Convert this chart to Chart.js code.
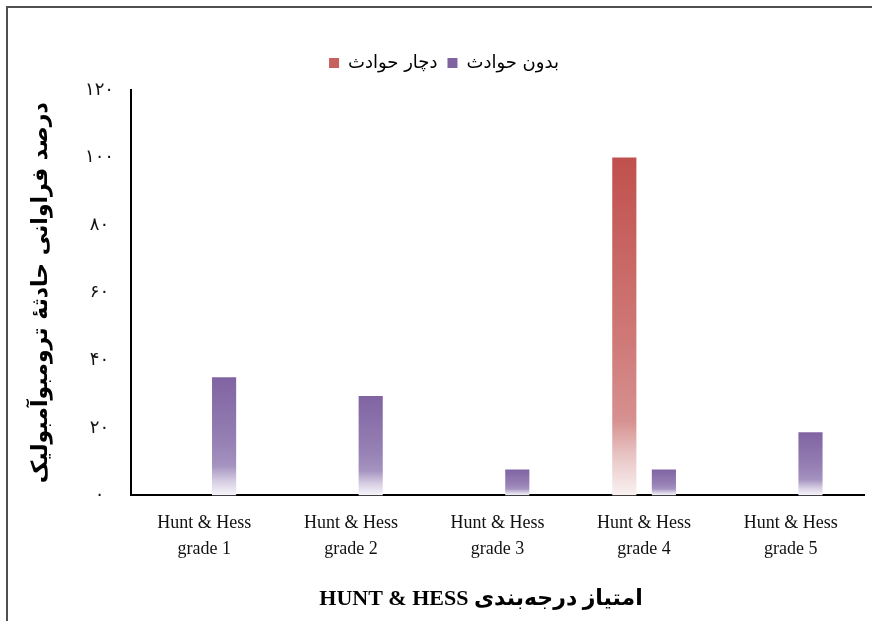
<!DOCTYPE html>
<html lang="fa">
<head>
    <meta charset="UTF-8">
    <title>Hunt & Hess</title>
    <script src="https://cdn.jsdelivr.net/npm/chart.js"></script>
    <style>
        body {
            margin: 0;
            background: #fff;
            overflow: hidden;
        }
        .frame {
            position: absolute;
            left: 6px;
            top: 6px;
            width: 920px;
            height: 700px;
            border: 2px solid #505050;
        }
        .wrap {
            position: absolute;
            left: 0;
            top: 0;
            width: 872px;
            height: 621px;
        }
    </style>
</head>
<body>
    <div class="frame"></div>
    <div class="wrap">
        <canvas id="hhChart"></canvas>
    </div>

    <script>
        // داده‌ها
        const categories = [
            ['Hunt & Hess', 'grade 1'],
            ['Hunt & Hess', 'grade 2'],
            ['Hunt & Hess', 'grade 3'],
            ['Hunt & Hess', 'grade 4'],
            ['Hunt & Hess', 'grade 5']
        ];
        const seriesNames = ['دچار حوادث', 'بدون حوادث'];
        const withAccident = [0, 0, 0, 100, 0];
        const withoutAccident = [35, 29.4, 7.7, 7.7, 18.7];
        const yTickLabels = ['۰', '۲۰', '۴۰', '۶۰', '۸۰', '۱۰۰', '۱۲۰'];

        const yTitle = 'درصد فراوانی حادثهٔ ترومبوآمبولیک';
        // چند فاصله در ابتدا تا عنوان کمی به چپ برود (مثل تصویر)
        const xTitle = '\u202B      امتیاز درجه‌بندی HUNT & HESS\u202C';

        const fontSerif = "'Liberation Serif', 'DejaVu Sans', serif";
        const fontFa = "'DejaVu Sans', sans-serif";

        // گرادیان ستون‌ها از بالا به پایین
        function barFill(stops, solid) {
            return function (ctx) {
                if (ctx.type !== 'data') return solid;
                const chart = ctx.chart;
                if (!chart.chartArea) return solid;
                const y = chart.scales.y;
                const top = y.getPixelForValue(ctx.raw || 0);
                const bottom = y.getPixelForValue(0);
                if (bottom - top < 1) return solid;
                const g = chart.ctx.createLinearGradient(0, top, 0, bottom);
                stops.forEach(s => g.addColorStop(s[0], s[1]));
                return g;
            };
        }

        const redStops = [
            [0, 'rgb(192, 80, 77)'],
            [0.55, 'rgb(207, 122, 120)'],
            [0.78, 'rgb(214, 145, 144)'],
            [0.88, 'rgb(232, 196, 196)'],
            [1, 'rgb(250, 242, 242)']
        ];
        const purpleStops = [
            [0, 'rgb(128, 100, 162)'],
            [0.55, 'rgb(150, 128, 180)'],
            [0.75, 'rgb(165, 147, 192)'],
            [0.88, 'rgb(214, 205, 226)'],
            [1, 'rgb(248, 246, 251)']
        ];

        // فاصله‌ی اضافه زیر راهنما
        const legendGap = {
            id: 'legendGap',
            beforeInit(chart) {
                const fit = chart.legend.fit;
                chart.legend.fit = function () {
                    fit.call(this);
                    this.height += 8;
                };
            }
        };

        const hhChart = new Chart(document.getElementById('hhChart'), {
            type: 'bar',
            data: {
                labels: categories,
                datasets: [{
                    label: seriesNames[0],
                    data: withAccident,
                    backgroundColor: barFill(redStops, 'rgb(200, 96, 94)'),
                    borderWidth: 0
                }, {
                    label: seriesNames[1],
                    data: withoutAccident,
                    backgroundColor: barFill(purpleStops, 'rgb(142, 118, 172)'),
                    borderWidth: 0
                }]
            },
            plugins: [legendGap],
            options: {
                responsive: true,
                maintainAspectRatio: false,
                animation: false,
                categoryPercentage: 0.54,
                barPercentage: 0.61,
                layout: {
                    padding: { top: 44, left: 24, right: 8, bottom: 8 }
                },
                plugins: {
                    legend: {
                        position: 'top',
                        labels: {
                            boxWidth: 10,
                            boxHeight: 10,
                            padding: 10,
                            color: '#000',
                            font: { family: fontFa, size: 18 }
                        }
                    },
                    tooltip: { enabled: false }
                },
                scales: {
                    x: {
                        grid: { display: false },
                        border: { display: true, color: '#000', width: 2 },
                        ticks: {
                            color: '#111',
                            padding: 7,
                            maxRotation: 0,
                            font: { family: fontSerif, size: 18, lineHeight: 1.45 }
                        },
                        title: {
                            display: true,
                            text: xTitle,
                            color: '#000',
                            padding: { top: 17, bottom: 0 },
                            font: { family: fontSerif, size: 22, weight: 'bold' }
                        }
                    },
                    y: {
                        min: 0,
                        max: 120,
                        grid: { display: false },
                        border: { display: true, color: '#000', width: 2 },
                        afterFit: function (scale) { scale.width = 107; },
                        ticks: {
                            stepSize: 20,
                            color: '#111',
                            padding: 9,
                            crossAlign: 'center',
                            font: { family: fontFa, size: 18 },
                            callback: function (value, index) { return yTickLabels[index]; }
                        },
                        title: {
                            display: true,
                            text: yTitle,
                            color: '#000',
                            padding: { top: 4, bottom: 4 },
                            font: { family: fontFa, size: 22, weight: 'bold' }
                        }
                    }
                }
            }
        });
    </script>
</body>
</html>
